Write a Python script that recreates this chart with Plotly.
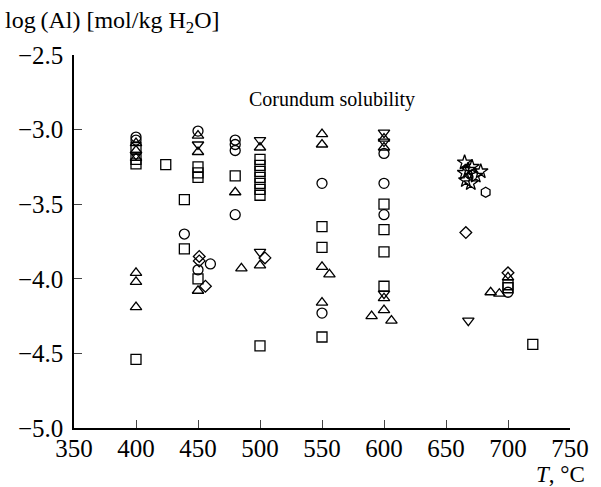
import plotly.graph_objects as go

# ---- data (T in °C, log(Al)) ----
sq_x = [400, 400, 400, 400, 424, 439, 439, 450, 450, 450, 450, 480,
        500, 500, 500, 500, 500, 500, 500, 500, 550, 550, 550,
        600, 600, 600, 600, 700, 700, 720]
sq_y = [-3.12, -3.20, -3.23, -4.54, -3.235, -3.47, -3.80, -3.25, -3.29, -3.32, -4.00, -3.31,
        -3.20, -3.24, -3.28, -3.32, -3.36, -3.40, -3.44, -4.45, -3.65, -3.79, -4.39,
        -3.50, -3.67, -3.82, -4.05, -4.04, -4.06, -4.44]

ci_x = [400, 400, 439, 450, 450, 460, 480, 480, 480, 480, 550, 550, 600, 600, 600, 700]
ci_y = [-3.05, -3.07, -3.70, -3.01, -3.94, -3.90, -3.07, -3.10, -3.14, -3.57, -3.36, -4.23,
        -3.16, -3.36, -3.57, -4.09]

tu_x = [400, 400, 400, 400, 400, 400, 450, 450, 450, 480, 485, 500, 500,
        550, 550, 550, 550, 556, 600, 600, 600, 600, 590, 606, 686, 693, 700]
tu_y = [-3.09, -3.14, -3.19, -3.96, -4.02, -4.19, -3.04, -3.15, -4.08, -3.42, -3.93, -3.12, -3.91,
        -3.03, -3.10, -3.92, -4.16, -3.97, -3.06, -3.12, -4.13, -4.21, -4.25, -4.28, -4.09, -4.10, -3.99]

td_x = [400, 450, 500, 500, 600, 600, 600, 668]
td_y = [-3.17, -3.10, -3.07, -3.82, -3.02, -3.08, -4.10, -4.28]

di_x = [451, 451, 456, 504, 666, 700]
di_y = [-3.85, -3.88, -4.05, -3.86, -3.69, -3.96]

st_x = [665, 671, 678, 665, 674, 666, 670, 668]
st_y = [-3.22, -3.25, -3.28, -3.29, -3.31, -3.34, -3.36, -3.27]

hx_x = [682]
hx_y = [-3.42]

x_ticks = [350, 400, 450, 500, 550, 600, 650, 700, 750]
y_ticks = [-5.0, -4.5, -4.0, -3.5, -3.0, -2.5]

FONT = "Liberation Serif"

fig = go.Figure()

def add(xs, ys, sym, size=10):
    fig.add_trace(go.Scatter(
        x=xs, y=ys, mode="markers",
        marker=dict(symbol=sym, size=size, color="black",
                    line=dict(color="black", width=1.3)),
        showlegend=False, cliponaxis=False))

add(sq_x, sq_y, "square-open", 10)
add(ci_x, ci_y, "circle-open", 10)
add(tu_x, tu_y, "triangle-up-open", 10)
add(td_x, td_y, "triangle-down-open", 10)
add(di_x, di_y, "diamond-open", 9)
add(st_x, st_y, "star-open", 11)
add(hx_x, hx_y, "hexagon-open", 10)

fig.update_layout(
    width=601, height=487,
    margin=dict(l=74, r=27, t=55, b=59),
    paper_bgcolor="white", plot_bgcolor="white",
    font=dict(family=FONT, size=24, color="black"),
    xaxis=dict(range=[350, 750], tickvals=x_ticks, ticks="inside", ticklen=8,
               tickwidth=1.2, showline=True, linecolor="black", linewidth=1.5,
               showgrid=False, zeroline=False, mirror=False, ticklabelstandoff=-3,
               tickfont=dict(family=FONT, size=25)),
    yaxis=dict(range=[-5.0, -2.5], tickvals=y_ticks, tickformat=".1f", ticks="inside",
               ticklen=8, tickwidth=1.2, showline=True, linecolor="black", linewidth=1.5,
               showgrid=False, zeroline=False, mirror=False, ticklabelstandoff=4,
               tickfont=dict(family=FONT, size=25)),
    annotations=[
        dict(text="log\u2009(Al) [mol/kg H<sub>2</sub>O]", xref="paper", yref="paper",
             x=0, y=1.0, xanchor="left", yanchor="bottom", xshift=-71, yshift=16,
             showarrow=False, font=dict(family=FONT, size=24)),
        dict(text="Corundum solubility", xref="x", yref="y", x=558, y=-2.80,
             xanchor="center", yanchor="middle", showarrow=False,
             font=dict(family=FONT, size=20)),
        dict(text="<i>T</i>, °C", xref="paper", yref="paper", x=1.0, y=0,
             xanchor="right", yanchor="top", xshift=17, yshift=-32, showarrow=False,
             font=dict(family=FONT, size=23)),
    ],
)

fig.write_html("out.html")
